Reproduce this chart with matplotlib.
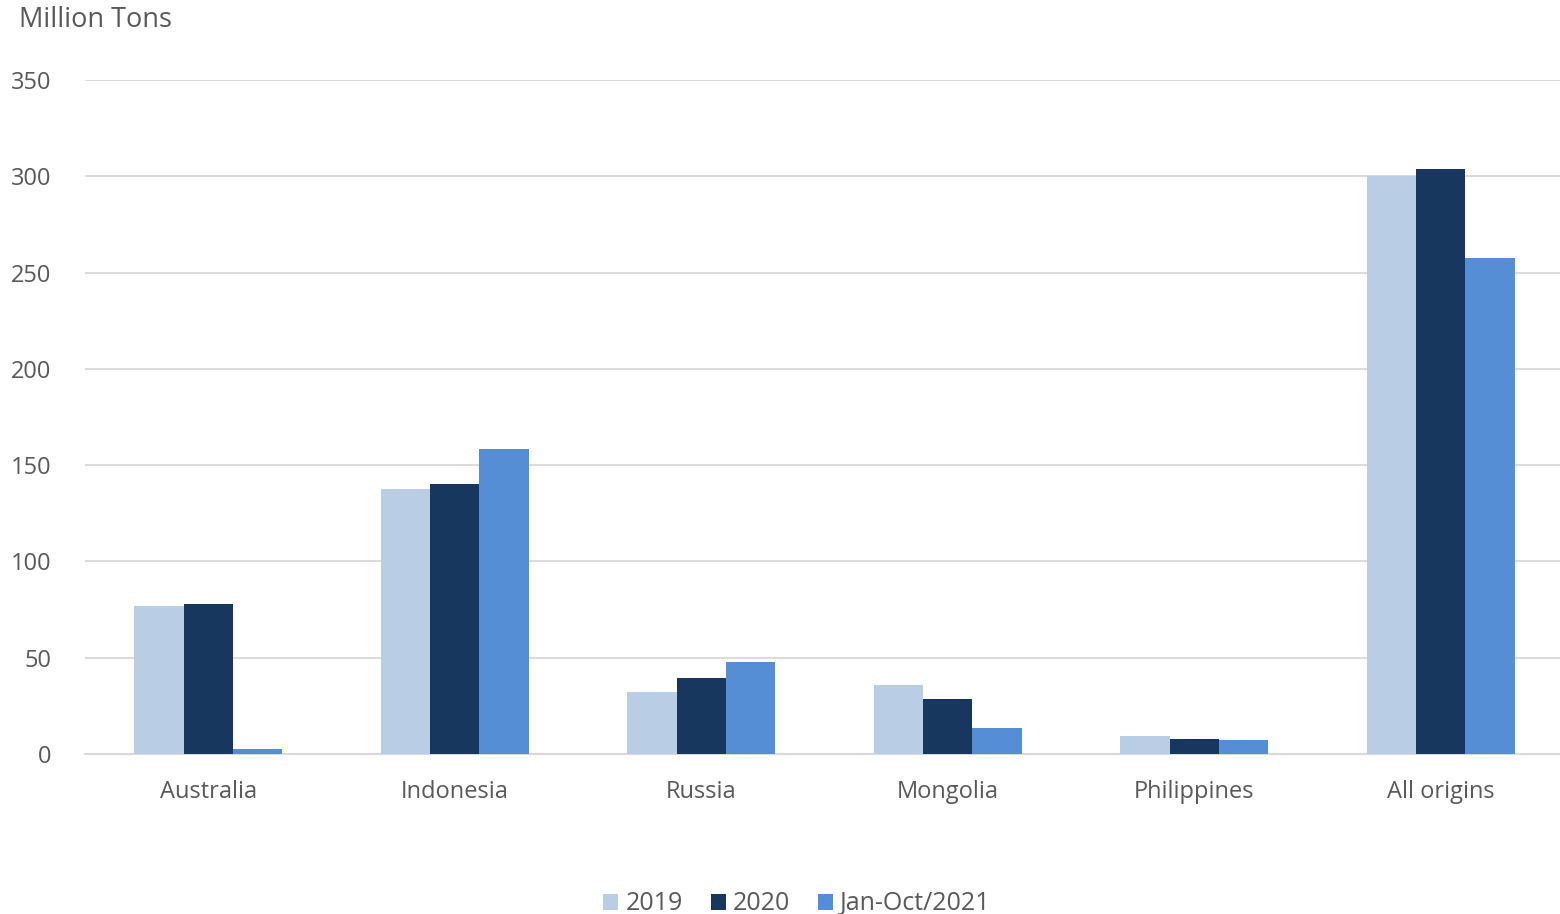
import matplotlib.pyplot as plt
import numpy as np

categories = ["Australia", "Indonesia", "Russia", "Mongolia", "Philippines", "All origins"]
series_names = ["2019", "2020", "Jan-Oct/2021"]
values_2019 = [77, 137.5, 32, 36, 9.3, 300]
values_2020 = [78, 140, 39.5, 28.5, 7.8, 304]
values_2021 = [2.6, 158.5, 48, 13.5, 7.3, 257.5]
yticks = [0, 50, 100, 150, 200, 250, 300, 350]

colors = ["#B9CDE5", "#17375E", "#558ED5"]
text_color = "#595959"

plt.rcParams["font.family"] = ["Open Sans", "DejaVu Sans"]

fig = plt.figure(figsize=(15.6, 9.14), dpi=100)
ax = fig.add_axes([0.0545, 0.175, 0.948, 0.7375])

x = np.arange(len(categories))
width = 0.2
for i, (vals, name) in enumerate(zip([values_2019, values_2020, values_2021], series_names)):
    ax.bar(x + (i - 1) * width, vals, width, color=colors[i], label=name, zorder=3)

ax.set_xlim(-0.5, len(categories) - 0.5)
ax.set_ylim(0, 350)
ax.set_yticks(yticks)
ax.set_xticks(x)
ax.set_xticklabels(categories)
ax.grid(axis="y", color="#D9D9D9", linewidth=1.3, zorder=0)
for s in ["top", "right", "left"]:
    ax.spines[s].set_visible(False)
ax.spines["bottom"].set_color("#D9D9D9")
ax.spines["bottom"].set_linewidth(1.5)
ax.tick_params(axis="both", length=0, colors=text_color, labelsize=17)
ax.tick_params(axis="x", pad=19)
ax.tick_params(axis="y", pad=24)

fig.text(0.012, 0.978, "Million Tons", fontsize=19.5, color=text_color, va="center", ha="left")

leg = fig.legend(loc="center", bbox_to_anchor=(0.511, 0.011), ncol=3, frameon=False,
                 fontsize=18, handlelength=0.6, handleheight=0.6, handletextpad=0.3,
                 columnspacing=1.1, labelcolor=text_color)

fig.savefig("out.png", dpi=100)
plt.close(fig)
